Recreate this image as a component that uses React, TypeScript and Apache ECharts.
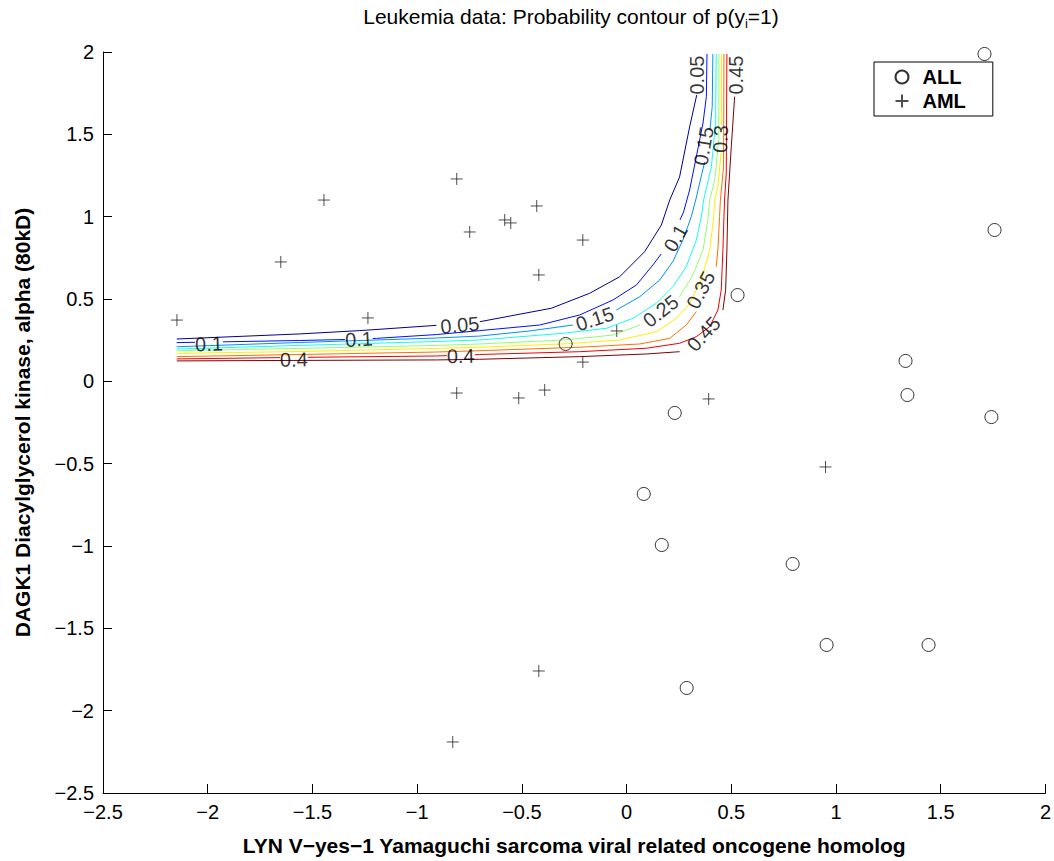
import React, { useEffect, useRef } from 'react';
import * as echarts from 'echarts';

const FONT = '"Liberation Sans", Arial, Helvetica, sans-serif';

// Observed samples
const allPoints: number[][] = [
  [1.709, 1.988], [1.757, 0.919], [0.530, 0.524], [-0.291, 0.227], [1.332, 0.124],
  [1.341, -0.083], [1.742, -0.217], [0.230, -0.192], [0.082, -0.684], [0.168, -0.994],
  [0.793, -1.109], [0.955, -1.601], [1.442, -1.601], [0.287, -1.862],
];
const amlPoints: number[][] = [
  [-2.147, 0.372], [-1.651, 0.725], [-1.445, 1.101], [-1.235, 0.385], [-0.811, 1.229],
  [-0.749, 0.907], [-0.582, 0.980], [-0.553, 0.962], [-0.429, 1.065], [-0.419, 0.646],
  [-0.209, 0.858], [-0.047, 0.306], [-0.209, 0.117], [-0.811, -0.071], [-0.391, -0.053],
  [-0.515, -0.101], [0.392, -0.107], [0.950, -0.520], [-0.419, -1.759], [-0.830, -2.190],
];

// Contour levels and colours (jet)
const levels = ['0.05', '0.1', '0.15', '0.2', '0.25', '0.3', '0.35', '0.4', '0.45'];
const levelColors = ['#00008F', '#0010FF', '#008FFF', '#10FFEF', '#8FFF70', '#FFEF00', '#FF7000', '#EF0000', '#800000'];

// Contour polylines (null = gap where an inline label sits)
const c05 = [[-2.148, 0.257], [-1.560, 0.288], [-1.274, 0.308], [-0.908, 0.340], null, [-0.701, 0.362], [-0.359, 0.444], [-0.176, 0.535], [-0.033, 0.635], [0.086, 0.787], [0.166, 0.949], [0.206, 1.101], [0.253, 1.241], [0.301, 1.545], [0.335, 1.739]];
const c10 = [[-2.148, 0.235], [-2.061, 0.237], null, [-1.927, 0.240], [-1.560, 0.248], [-1.345, 0.254], null, [-1.212, 0.260], [-1.194, 0.261], [-0.908, 0.284], [-0.701, 0.308], [-0.415, 0.342], [-0.224, 0.403], [-0.065, 0.494], [0.047, 0.585], [0.126, 0.707], [0.165, 0.773], null, [0.255, 0.980], [0.272, 1.028], [0.301, 1.162], [0.333, 1.364], [0.365, 1.569], [0.381, 1.729], [0.384, 1.988]];
const c15 = [[-2.148, 0.210], [-1.560, 0.236], [-0.908, 0.263], [-0.701, 0.275], [-0.462, 0.306], [-0.256, 0.342], null, [-0.049, 0.433], [0.063, 0.514], [0.158, 0.615], [0.221, 0.727], [0.269, 0.858], [0.309, 1.000], [0.330, 1.101], [0.358, 1.253], [0.373, 1.332], null, [0.398, 1.526], [0.409, 1.668], [0.412, 1.988]];
const c20 = [[-2.148, 0.196], [-1.560, 0.218], [-0.908, 0.242], [-0.701, 0.251], [-0.303, 0.292], [-0.096, 0.322], [0.031, 0.383], [0.142, 0.474], [0.221, 0.575], [0.285, 0.696], [0.333, 0.858], [0.357, 1.000], [0.368, 1.101], [0.405, 1.303], [0.425, 1.569], [0.428, 1.988]];
const c25 = [[-2.148, 0.186], [-1.560, 0.200], [-0.908, 0.218], [-0.701, 0.227], [-0.303, 0.251], [-0.065, 0.281], [0.063, 0.342], null, [0.253, 0.514], [0.317, 0.646], [0.365, 0.798], [0.388, 0.980], [0.397, 1.101], [0.421, 1.223], [0.440, 1.466], [0.441, 1.988]];
const c30 = [[-2.148, 0.170], [-1.560, 0.181], [-0.908, 0.200], [-0.701, 0.207], [-0.303, 0.227], [-0.033, 0.251], [0.142, 0.301], [0.238, 0.383], [0.301, 0.474], [0.357, 0.615], [0.397, 0.798], [0.416, 1.000], [0.421, 1.101], [0.436, 1.182], [0.451, 1.387], null, [0.453, 1.557], [0.454, 1.988]];
const c35 = [[-2.148, 0.150], [-1.560, 0.163], [-0.908, 0.178], [-0.701, 0.186], [-0.224, 0.207], [0.063, 0.227], [0.206, 0.261], [0.285, 0.342], [0.333, 0.423], null, [0.428, 0.696], [0.436, 0.798], [0.444, 1.000], [0.448, 1.101], [0.463, 1.303], [0.465, 1.988]];
const c40 = [[-2.148, 0.136], [-1.655, 0.144], null, [-1.522, 0.146], [-0.908, 0.154], [-0.858, 0.156], null, [-0.725, 0.161], [-0.701, 0.163], [-0.224, 0.180], [0.094, 0.201], [0.253, 0.231], [0.333, 0.271], [0.397, 0.332], [0.436, 0.433], [0.452, 0.555], [0.460, 0.798], [0.465, 1.000], [0.468, 1.101], [0.476, 1.265], [0.479, 1.988]];
const c45 = [[-2.148, 0.124], [-1.560, 0.127], [-0.908, 0.130], [-0.701, 0.134], [-0.224, 0.150], [0.094, 0.166], [0.253, 0.180], null, [0.460, 0.433], [0.473, 0.555], [0.479, 0.798], [0.484, 1.101], [0.500, 1.425], [0.516, 1.729]];
const contours = [c05, c10, c15, c20, c25, c30, c35, c40, c45];

// Inline contour labels: text, x, y, rotation (deg)
const contourLabels: [string, number, number, number][] = [
  ['0.1', -1.994, 0.227, 2],
  ['0.4', -1.589, 0.132, 1],
  ['0.1', -1.278, 0.256, 3],
  ['0.05', -0.796, 0.342, 5],
  ['0.4', -0.792, 0.154, 1],
  ['0.15', -0.152, 0.379, 18],
  ['0.25', 0.163, 0.427, 38],
  ['0.35', 0.354, 0.555, 62],
  ['0.45', 0.368, 0.288, 48],
  ['0.1', 0.234, 0.870, 60],
  ['0.15', 0.368, 1.429, 80],
  ['0.3', 0.449, 1.472, 88],
  ['0.05', 0.335, 1.860, 90],
  ['0.45', 0.521, 1.860, 90],
];

const xRange = [-2.5, 2];
const yRange = [-2.5, 2];
const tickStep = 0.5;

const titleText = '{m|Leukemia data: Probability contour of p(y}{sub|i}{m|=1)}';
const xName = 'LYN V\u2212yes\u22121 Yamaguchi sarcoma viral related oncogene homolog';
const yName = 'DAGK1 Diacylglycerol kinase, alpha (80kD)';

const fmt = (v: number) => (v < 0 ? '\u2212' + String(-v) : String(v));

export default function App() {
  const ref = useRef<HTMLDivElement>(null);
  useEffect(() => {
    if (!ref.current) return;
    const chart = echarts.init(ref.current, undefined, { renderer: 'svg' });
    const axisCommon = {
      type: 'value' as const,
      interval: tickStep,
      splitLine: { show: false },
      axisLine: { onZero: false, lineStyle: { color: '#000', width: 1 } },
      axisTick: { inside: true, length: 9, lineStyle: { color: '#000', width: 1 } },
      axisLabel: { color: '#000', fontSize: 20, fontFamily: FONT, formatter: fmt },
      nameLocation: 'middle' as const,
      nameTextStyle: { color: '#000', fontSize: 21, fontWeight: 'bold' as const, fontFamily: FONT },
    };
    const lineSeries = contours.map((d, i) => ({
      type: 'line',
      name: 'c' + levels[i],
      data: d.map((p) => (p === null ? [null, null] : p)),
      showSymbol: false,
      symbol: 'none',
      connectNulls: false,
      lineStyle: { color: levelColors[i], width: 1 },
      itemStyle: { color: levelColors[i] },
      z: 2,
      silent: true,
    }));
    chart.setOption({
      animation: false,
      grid: { left: 103, top: 52, width: 943, height: 741 },
      xAxis: {
        ...axisCommon,
        min: xRange[0],
        max: xRange[1],
        name: xName,
        nameGap: 42,
        axisLabel: { ...axisCommon.axisLabel, margin: 9 },
      },
      yAxis: {
        ...axisCommon,
        min: yRange[0],
        max: yRange[1],
        name: yName,
        nameGap: 70,
        axisLabel: { ...axisCommon.axisLabel, margin: 9 },
      },
      legend: {
        data: ['ALL', 'AML'],
        left: 874,
        top: 62,
        orient: 'vertical',
        padding: [5, 27, 5, 19],
        itemWidth: 31,
        itemHeight: 13,
        itemGap: 4,
        borderColor: '#000',
        borderWidth: 1,
        borderRadius: 0,
        backgroundColor: '#fff',
        selectedMode: false,
        textStyle: { color: '#000', fontSize: 20, fontWeight: 'bold', fontFamily: FONT },
      },
      graphic: [
        {
          type: 'text',
          x: 571,
          y: 6,
          style: {
            text: titleText,
            align: 'center',
            verticalAlign: 'top',
            fill: '#000',
            rich: {
              m: { fontSize: 21, fontFamily: FONT, lineHeight: 24, verticalAlign: 'top', fill: '#000' },
              sub: { fontSize: 13, fontFamily: FONT, lineHeight: 6, verticalAlign: 'bottom', fill: '#000' },
            },
          },
        },
      ],
      series: [
        ...lineSeries,
        {
          type: 'scatter',
          name: 'labels',
          data: contourLabels.map(([t, x, y, r]) => ({ name: t, value: [x, y], label: { rotate: r } })),
          symbolSize: 0.1,
          itemStyle: { color: 'rgba(0,0,0,0)' },
          label: {
            show: true,
            position: 'inside',
            formatter: '{b}',
            color: '#000',
            fontSize: 20,
            fontFamily: FONT,
          },
          z: 3,
          silent: true,
        },
        {
          type: 'scatter',
          name: 'ALL',
          data: allPoints,
          symbol: 'circle',
          symbolSize: 13,
          itemStyle: { color: 'rgba(0,0,0,0)', borderColor: '#000', borderWidth: 1 },
          z: 4,
        },
        {
          type: 'scatter',
          name: 'AML',
          data: amlPoints,
          symbol: 'path://M0,6L12,6M6,0L6,12',
          symbolSize: 12,
          itemStyle: { color: 'none', borderColor: '#222', borderWidth: 1 },
          z: 4,
        },
      ],
    });
    return () => chart.dispose();
  }, []);
  return (
    <div
      ref={ref}
      style={{ position: 'fixed', left: 0, top: 0, width: 1054, height: 861, background: '#fff' }}
    />
  );
}
